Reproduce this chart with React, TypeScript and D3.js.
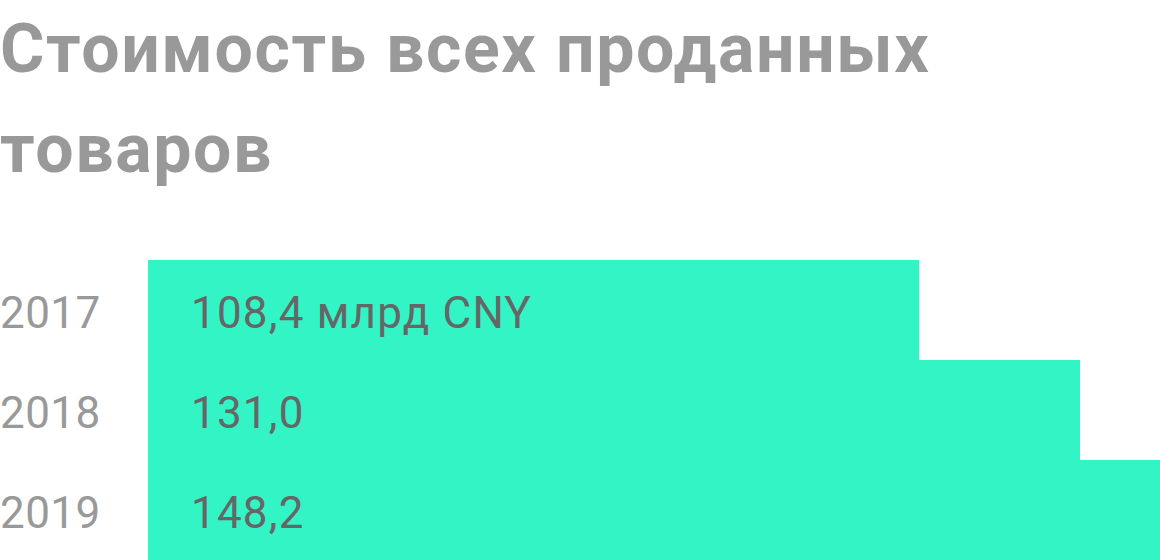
import { useEffect, useRef } from 'react';
import * as d3 from 'd3';

const titleLines = ['Стоимость всех проданных', 'товаров'];
const years = ['2017', '2018', '2019'];
const values = [108.4, 131.0, 148.2];
const valueLabels = ['108,4 млрд CNY', '131,0', '148,2'];

const W = 1160;
const H = 560;

export default function App() {
  const svgRef = useRef<SVGSVGElement>(null);

  useEffect(() => {
    if (!svgRef.current) return;
    const svg = d3.select(svgRef.current);
    svg.selectAll('*').remove();

    const font = 'Roboto, "Noto Sans", sans-serif';

    // Title
    svg.append('g')
      .selectAll('text')
      .data(titleLines)
      .enter()
      .append('text')
      .attr('x', 0)
      .attr('y', (_, i) => 72 + i * 100)
      .attr('fill', '#999999')
      .style('font-family', font)
      .style('font-size', '68px')
      .style('font-weight', 700)
      .style('letter-spacing', '1.6px')
      .text(d => d);

    const data = years.map((y, i) => ({ year: y, value: values[i], label: valueLabels[i] }));

    const x = d3.scaleLinear().domain([0, 131]).range([148, 1080]);
    const y = d3.scaleBand<string>().domain(years).range([260, 560]).paddingInner(0);

    const g = svg.append('g');

    // Bars (last one runs off the right edge)
    g.selectAll('.bar')
      .data(data)
      .enter()
      .append('rect')
      .attr('class', 'bar')
      .attr('x', x(0))
      .attr('y', d => y(d.year) || 0)
      .attr('width', d => x(d.value) - x(0))
      .attr('height', y.bandwidth())
      .attr('fill', '#33f4c5');

    // Year labels
    g.selectAll('.year')
      .data(data)
      .enter()
      .append('text')
      .attr('class', 'year')
      .attr('x', 0)
      .attr('y', d => (y(d.year) || 0) + y.bandwidth() / 2 + 18)
      .attr('fill', '#999999')
      .style('font-family', font)
      .style('font-size', '44px')
      .style('letter-spacing', '0.4px')
      .text(d => d.year);

    // Value labels inside bars
    g.selectAll('.value')
      .data(data)
      .enter()
      .append('text')
      .attr('class', 'value')
      .attr('x', x(0) + 43)
      .attr('y', d => (y(d.year) || 0) + y.bandwidth() / 2 + 18)
      .attr('fill', '#666666')
      .style('font-family', font)
      .style('font-size', '44px')
      .style('letter-spacing', '1.2px')
      .text(d => d.label);
  }, []);

  return (
    <svg
      ref={svgRef}
      width={W}
      height={H}
      style={{ position: 'absolute', left: 0, top: 0, background: '#fff' }}
    />
  );
}
